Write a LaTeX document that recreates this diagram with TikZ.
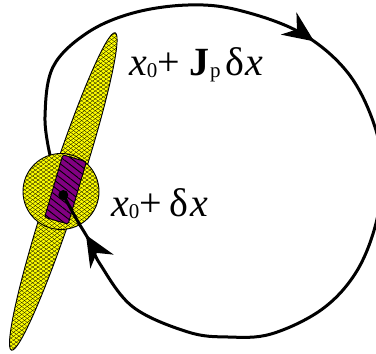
\documentclass[tikz,border=0pt]{standalone}
\usepackage{fontspec}
\setmainfont{Liberation Serif}
\usetikzlibrary{patterns.meta,decorations.markings,arrows.meta}
\definecolor{meshyellow}{RGB}{255,255,0}
\definecolor{bandpurple}{RGB}{130,0,130}
\newcommand{\lblfont}{\fontsize{40}{44}\selectfont}
\newcommand{\subtxt}[1]{\raisebox{-2pt}{\fontsize{21}{21}\selectfont #1}}
\tikzset{
  meshfill/.style={
    preaction={fill=meshyellow},
    preaction={pattern={Lines[angle=36,distance=3.2pt,line width=0.3pt]},pattern color=black},
    preaction={pattern={Lines[angle=-36,distance=3.2pt,line width=0.3pt]},pattern color=black},
    draw=black, line width=0.9pt},
  bandfill/.style={
    preaction={fill=bandpurple},
    preaction={pattern={Lines[angle=-38,distance=5.5pt,line width=0.9pt]},pattern color=black},
    draw=black, line width=0.9pt, rounded corners=1.5pt},
  orbit/.style={line width=3pt, line join=round,
    postaction={decorate, decoration={markings,
      mark=at position 0.37 with {\arrow{Stealth[length=31pt,width=27pt,inset=10pt]}},
      mark=at position 0.955 with {\arrow{Stealth[length=31pt,width=27pt,inset=10pt]}}}}},
  label/.style={anchor=base west, inner sep=0pt, font=\lblfont}
}
\begin{document}
\begin{tikzpicture}[x=1pt,y=-1pt]
\useasboundingbox (0,0) rectangle (376,354);
% elongated ellipse
\path[meshfill, shift={(63.3,191.5)}, rotate=71.9] (0,0) ellipse [x radius=167pt, y radius=15pt];
% circle
\path[meshfill] (61,191.5) circle [radius=38pt];
% purple band
\path[bandfill, shift={(65.5,189.5)}, rotate=73.7] (-32.5pt,-12.25pt) rectangle (32.5pt,12.25pt);
% point
\coordinate (x0) at (63.3,195);
\coordinate (start) at (50,155);
% orbit
\draw[orbit] plot[smooth, tension=0.6] coordinates {
  (start) (45,117) (53,67) (87,33) (133,13) (188,5) (238,10) (301,33)
  (348,73) (375,127) (382,177) (375,227) (355,274) (321,310) (271,334)
  (228,337) (188,332) (133,307) (100,264) (90,242) (77,220) (x0)};
\fill[black] (x0) circle [radius=5pt];
% labels
\node[label] (lblJ) at (129,75.5) {\textit{x}\subtxt{0}+\hspace{9pt}\textbf{J}\kern1pt\subtxt{p}\hspace{5pt}δ\kern1pt\textit{x}};
\node[label] (lbld) at (111,216.5) {\textit{x}\subtxt{0}+\hspace{7pt}δ\hspace{3pt}\textit{x}};
\end{tikzpicture}
\end{document}
